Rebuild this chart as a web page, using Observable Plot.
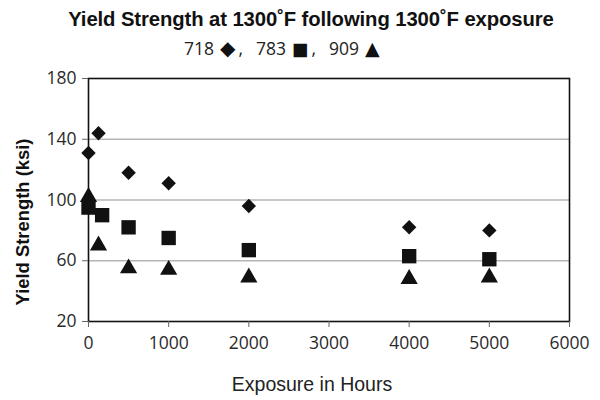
<!DOCTYPE html>
<html><head><meta charset="utf-8">
<script src="https://cdn.jsdelivr.net/npm/d3@7"></script>
<script src="https://cdn.jsdelivr.net/npm/@observablehq/plot@0.6"></script>
<style>
body{margin:0;background:#fff;width:600px;height:400px;position:relative;overflow:hidden}
.t{position:absolute;left:0;width:600px;text-align:center;white-space:pre;color:#111;box-sizing:border-box;line-height:normal}
#title{top:8px;font:bold 20.3px "Liberation Sans",Arial,sans-serif;padding-left:22px;letter-spacing:-0.1px}
#sub{top:36px;font:17.5px "Open Sans",sans-serif;text-align:left;padding-left:184px;color:#222}
#sub .g{font-family:"DejaVu Sans",sans-serif;margin-left:6px;color:#111}
#sub .c{margin-left:3px}
#sub .n{margin-left:13px}
#sub .n:first-child{margin-left:0}
#xlab{top:373px;font:19.5px "Liberation Sans",Arial,sans-serif;padding-left:24px;color:#222}
#chart{position:absolute;left:0;top:62px}
</style></head>
<body>
<div id="title" class="t"></div>
<div id="sub" class="t"></div>
<div id="chart"></div>
<div id="xlab" class="t"></div>
<script>
const titleText = "Yield Strength at 1300˚F following 1300˚F exposure";
const seriesNames = ["718", "783", "909"];
const seriesGlyphs = ["◆", "■", "▲"];
const glyphSizes = [20, 17.5, 19];
const xLabel = "Exposure in Hours";
const yLabel = "Yield Strength (ksi)";

const xTicks = [0, 1000, 2000, 3000, 4000, 5000, 6000];
const yTicks = [20, 60, 100, 140, 180];
const gridY = [60, 100, 140];

const hours718 = [0, 125, 500, 1000, 2000, 4000, 5000];
const ys718    = [131, 144, 118, 111, 96, 82, 80];
const hours783 = [0, 170, 500, 1000, 2000, 4000, 5000];
const ys783    = [95, 90, 82, 75, 67, 63, 61];
const hours909 = [0, 125, 500, 1000, 2000, 4000, 5000];
const ys909    = [102, 70, 55, 54, 49, 48, 49];

const rows = (h, v) => h.map((x, i) => ({x, y: v[i]}));

document.getElementById("title").textContent = titleText;
const sub = document.getElementById("sub");
seriesNames.forEach((n, i) => {
  if (i) {
    const c = document.createElement("span");
    c.className = "c"; c.textContent = ",";
    sub.appendChild(c);
  }
  const ns = document.createElement("span");
  ns.className = "n"; ns.textContent = n;
  sub.appendChild(ns);
  const g = document.createElement("span");
  g.className = "g"; g.textContent = seriesGlyphs[i];
  g.style.fontSize = glyphSizes[i] + "px";
  sub.appendChild(g);
});
document.getElementById("xlab").textContent = xLabel;

const chart = Plot.plot({
  width: 600, height: 289,
  marginTop: 16, marginBottom: 30, marginLeft: 88, marginRight: 31,
  style: {fontFamily: "'Open Sans', sans-serif", fontSize: "17.5px", color: "#2a2a2a", background: "white", overflow: "visible"},
  x: {domain: [0, 6000]},
  y: {domain: [20, 180]},
  marks: [
    Plot.ruleY(gridY, {stroke: "#b5b5b5", strokeWidth: 1.5}),
    Plot.frame({stroke: "#111", strokeWidth: 1.6}),
    Plot.axisX({ticks: xTicks, tickSize: 6, tickPadding: 9, label: null, tickFormat: d => String(d), stroke: "#666", fontSize: 17.5}),
    Plot.axisY({ticks: yTicks, tickSize: 6, tickPadding: 6, label: null, stroke: "#666", fontSize: 17.5}),
    Plot.dot(rows(hours718, ys718), {x: "x", y: "y", symbol: "diamond2", r: 6.5, fill: "#111", stroke: "none"}),
    Plot.dot(rows(hours783, ys783), {x: "x", y: "y", symbol: "square", r: 8.1, fill: "#111", stroke: "none"}),
    Plot.dot(rows(hours909, ys909), {x: "x", y: "y", symbol: "triangle", r: 6.4, fill: "#111", stroke: "none"}),
    Plot.text([yLabel], {text: d => d, frameAnchor: "left", textAnchor: "middle", dx: -65, dy: 22, rotate: -90, fontFamily: "'Liberation Sans', Arial, sans-serif", fontWeight: "bold", fontSize: 18.4, fill: "#111"})
  ]
});
document.getElementById("chart").appendChild(chart);
</script>
</body></html>
